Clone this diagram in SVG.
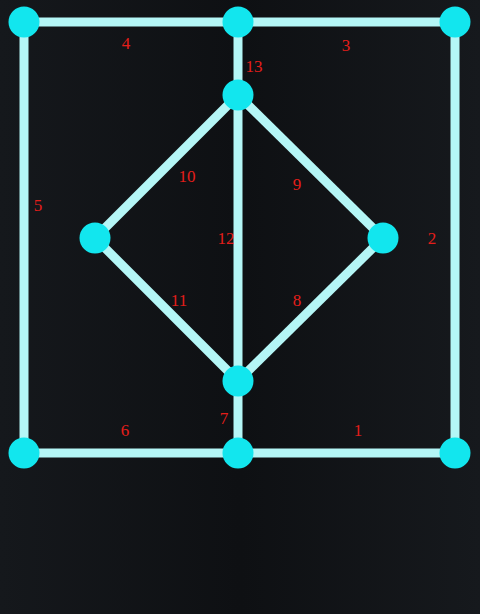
<svg xmlns="http://www.w3.org/2000/svg" width="480" height="614" viewBox="0 0 480 614">
<style>
.e{stroke:#b4f6f6;stroke-width:9;stroke-linecap:butt;fill:none}
.n{fill:#12e6ee}
.l{font-family:"Liberation Serif","DejaVu Serif",serif;font-size:17px;fill:#e41e1a;text-anchor:middle}
</style>
<defs>
<linearGradient id="bg" x1="0" y1="0" x2="1" y2="0">
<stop offset="0" stop-color="#15181c"/>
<stop offset="0.5" stop-color="#0e1013"/>
<stop offset="1" stop-color="#16191d"/>
</linearGradient>
</defs>
<rect width="480" height="614" fill="url(#bg)"/>
<g id="connectors">
<line class="e" x1="24" y1="22" x2="455" y2="22"/>
<line class="e" x1="24" y1="453" x2="455" y2="453"/>
<line class="e" x1="24" y1="22" x2="24" y2="453"/>
<line class="e" x1="455" y1="22" x2="455" y2="453"/>
<line class="e" x1="238" y1="22" x2="238" y2="453"/>
<line class="e" x1="238" y1="95" x2="95" y2="238"/>
<line class="e" x1="238" y1="95" x2="383" y2="238"/>
<line class="e" x1="95" y1="238" x2="238" y2="381"/>
<line class="e" x1="383" y1="238" x2="238" y2="381"/>
</g>
<g id="nodes">
<circle id="n_tl" class="n" cx="24" cy="22" r="15.5"/>
<circle id="n_tm" class="n" cx="238" cy="22" r="15.5"/>
<circle id="n_tr" class="n" cx="455" cy="22" r="15.5"/>
<circle id="n_it" class="n" cx="238" cy="95" r="15.5"/>
<circle id="n_dl" class="n" cx="95" cy="238" r="15.5"/>
<circle id="n_dr" class="n" cx="383" cy="238" r="15.5"/>
<circle id="n_ib" class="n" cx="238" cy="381" r="15.5"/>
<circle id="n_bl" class="n" cx="24" cy="453" r="15.5"/>
<circle id="n_bm" class="n" cx="238" cy="453" r="15.5"/>
<circle id="n_br" class="n" cx="455" cy="453" r="15.5"/>
</g>
<g id="labels">
<text class="l" x="126" y="49">4</text>
<text class="l" x="346" y="51">3</text>
<text class="l" x="254" y="72">13</text>
<text class="l" x="38" y="211">5</text>
<text class="l" x="187" y="182">10</text>
<text class="l" x="297" y="190">9</text>
<text class="l" x="226" y="244">12</text>
<text class="l" x="432" y="244">2</text>
<text class="l" x="179" y="306">11</text>
<text class="l" x="297" y="306">8</text>
<text class="l" x="224" y="424">7</text>
<text class="l" x="125" y="436">6</text>
<text class="l" x="358" y="436">1</text>
</g>
</svg>
